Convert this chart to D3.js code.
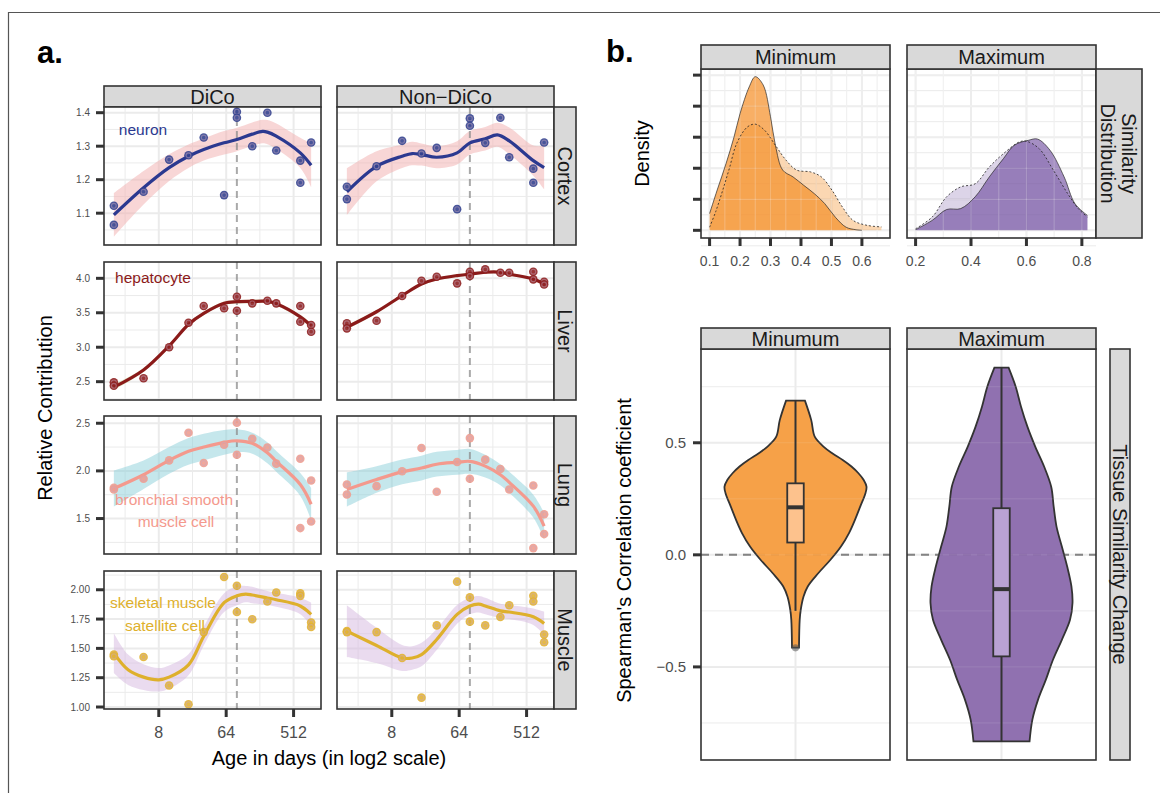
<!DOCTYPE html>
<html>
<head>
<meta charset="utf-8">
<script src="https://cdn.jsdelivr.net/npm/d3@7"></script>
<style>
body { margin: 0; background: #fff; }
svg { display: block; font-family: "Liberation Sans", Arial, sans-serif; }
</style>
</head>
<body>
<script>
"use strict";

// ---- data: panel a (age in days, relative contribution) ----
var tissues = ["Cortex", "Liver", "Lung", "Muscle"];
var groups = ["DiCo", "Non\u2212DiCo"];
var cellTypes = [["neuron"], ["hepatocyte"], ["bronchial smooth", "muscle cell"], ["skeletal muscle", "satellite cell"]];
var ages = [2, 5, 11, 20, 32, 60, 89, 143, 228, 300, 630, 880];
var cutoffAge = 89;

var cortexDiCo = [[2,1.122],[2,1.065],[5,1.164],[11,1.26],[20,1.273],[32,1.326],[60,1.154],[89,1.403],[89,1.385],[143,1.30],[228,1.40],[300,1.287],[630,1.257],[630,1.191],[880,1.311]];
var cortexNonDiCo = [[2,1.179],[2,1.142],[5,1.24],[11,1.316],[20,1.278],[32,1.295],[60,1.112],[89,1.383],[89,1.361],[143,1.31],[228,1.385],[300,1.267],[630,1.233],[630,1.191],[880,1.311]];
var liverDiCo = [[2,2.49],[2,2.44],[5,2.55],[11,3.0],[20,3.356],[32,3.598],[60,3.565],[89,3.733],[89,3.53],[143,3.637],[228,3.675],[300,3.637],[630,3.598],[630,3.37],[880,3.322],[880,3.225]];
var liverNonDiCo = [[2,3.347],[2,3.274],[5,3.385],[11,3.743],[20,3.965],[32,4.023],[60,3.927],[89,4.096],[89,4.033],[143,4.13],[228,4.08],[300,4.08],[630,4.096],[630,3.985],[880,3.95],[880,3.91]];
var lungDiCo = [[2,1.823],[2,1.805],[5,1.917],[11,2.11],[20,2.40],[32,2.083],[60,2.274],[89,2.506],[89,2.17],[143,2.336],[228,2.246],[300,2.076],[630,2.128],[630,1.40],[880,1.90],[880,1.469]];
var lungNonDiCo = [[2,1.857],[2,1.753],[5,1.84],[11,1.996],[20,2.24],[32,1.781],[60,2.094],[89,2.344],[89,1.917],[143,2.118],[228,2.02],[300,1.805],[630,1.847],[630,1.19],[880,1.545],[880,1.337]];
var muscleDiCo = [[2,1.447],[2,1.433],[5,1.427],[11,1.183],[20,1.023],[32,1.639],[60,2.109],[89,2.034],[89,1.81],[143,1.748],[228,1.90],[300,1.977],[630,1.969],[630,1.948],[880,1.72],[880,1.682]];
var muscleNonDiCo = [[2,1.647],[2,1.639],[5,1.639],[11,1.418],[20,1.08],[32,1.696],[60,2.069],[89,1.935],[89,1.728],[143,1.696],[228,1.768],[300,1.868],[630,1.948],[630,1.90],[880,1.619],[880,1.553]];

// loess fits: [age, fit, half-width of band]
var cortexDiCoFit = [[2,1.095,0.065],[5,1.176,0.05],[11,1.236,0.04],[20,1.27,0.035],[32,1.29,0.033],[60,1.31,0.035],[89,1.32,0.035],[143,1.336,0.035],[197,1.344,0.035],[228,1.342,0.036],[300,1.33,0.038],[630,1.28,0.045],[880,1.243,0.065]];
var cortexNonDiCoFit = [[2,1.164,0.07],[5,1.24,0.045],[11,1.27,0.035],[15,1.278,0.035],[20,1.275,0.033],[32,1.267,0.033],[60,1.28,0.035],[89,1.31,0.035],[143,1.322,0.035],[208,1.334,0.036],[300,1.316,0.04],[630,1.257,0.045],[880,1.236,0.065]];
var liverDiCoFit = [[2,2.42,0.04],[5,2.67,0.03],[11,3.02,0.025],[20,3.33,0.025],[32,3.49,0.025],[60,3.637,0.025],[89,3.66,0.025],[143,3.665,0.025],[228,3.665,0.025],[300,3.63,0.025],[630,3.44,0.03],[880,3.31,0.04]];
var liverNonDiCoFit = [[2,3.29,0.03],[5,3.515,0.025],[11,3.75,0.02],[20,3.917,0.02],[32,3.99,0.02],[60,4.04,0.02],[89,4.06,0.02],[143,4.088,0.02],[228,4.088,0.02],[300,4.06,0.02],[630,3.99,0.02],[880,3.917,0.03]];
var lungDiCoFit = [[2,1.815,0.19],[5,1.96,0.15],[11,2.11,0.14],[20,2.205,0.14],[32,2.25,0.14],[60,2.30,0.13],[89,2.316,0.12],[143,2.29,0.11],[228,2.19,0.11],[300,2.10,0.11],[630,1.857,0.12],[880,1.65,0.17]];
var lungNonDiCoFit = [[2,1.805,0.18],[5,1.91,0.14],[11,1.99,0.13],[20,2.03,0.13],[32,2.07,0.13],[60,2.09,0.13],[89,2.10,0.13],[143,2.05,0.12],[228,1.96,0.11],[300,1.88,0.11],[630,1.63,0.12],[880,1.42,0.14]];
var muscleDiCoFit = [[2,1.46,0.17],[3.1,1.318,0.13],[5,1.255,0.11],[8,1.232,0.1],[11,1.255,0.1],[20,1.36,0.09],[32,1.604,0.08],[60,1.89,0.08],[89,1.948,0.08],[117,1.963,0.07],[143,1.955,0.07],[228,1.93,0.06],[300,1.915,0.06],[630,1.862,0.07],[880,1.79,0.1]];
var muscleNonDiCoFit = [[2,1.647,0.22],[5,1.525,0.15],[11,1.418,0.11],[15,1.418,0.1],[20,1.447,0.1],[32,1.576,0.09],[60,1.79,0.08],[89,1.862,0.07],[117,1.877,0.07],[143,1.862,0.07],[228,1.82,0.06],[300,1.81,0.06],[630,1.77,0.07],[880,1.713,0.1]];

var rowLimits = [[1.005, 1.417], [2.234, 4.237], [1.128, 2.576], [0.983, 2.16]];
var rowTicks = [[1.1, 1.2, 1.3, 1.4], [2.5, 3.0, 3.5, 4.0], [1.5, 2.0, 2.5], [1.0, 1.25, 1.5, 1.75, 2.0]];
var rowFormats = [".1f", ".1f", ".1f", ".2f"];
var ageTicks = [8, 64, 512];

// ---- data: panel b ----
var simFacets = ["Minimum", "Maximum"];
var vioFacets = ["Minumum", "Maximum"];
var minDensSolid = [[0.10,0.54],[0.125,1.3],[0.154,2.15],[0.18,3.0],[0.20,3.76],[0.23,4.62],[0.25,4.95],[0.276,4.68],[0.30,3.66],[0.316,2.74],[0.34,1.94],[0.374,1.72],[0.409,1.45],[0.444,1.18],[0.478,0.86],[0.513,0.42],[0.548,0.1],[0.58,0.02],[0.60,0]];
var minDensDashed = [[0.10,0.1],[0.12,0.6],[0.143,1.29],[0.165,2.0],[0.189,2.8],[0.224,3.33],[0.25,3.42],[0.28,3.23],[0.316,2.74],[0.351,2.26],[0.386,1.94],[0.432,1.88],[0.467,1.72],[0.502,1.29],[0.536,0.75],[0.571,0.32],[0.617,0.16],[0.664,0.11]];
var maxDensSolid = [[0.2,0.02],[0.26,0.32],[0.312,0.67],[0.363,0.70],[0.415,1.08],[0.466,1.72],[0.517,2.31],[0.556,2.74],[0.607,2.90],[0.64,2.94],[0.685,2.58],[0.736,1.72],[0.775,0.86],[0.82,0.48]];
var maxDensDashed = [[0.2,0.05],[0.26,0.43],[0.312,1.08],[0.363,1.40],[0.415,1.5],[0.466,2.04],[0.517,2.47],[0.575,2.85],[0.60,2.87],[0.646,2.63],[0.697,1.94],[0.749,1.18],[0.787,0.70],[0.82,0.43]];
var minTicks = [0.1, 0.2, 0.3, 0.4, 0.5, 0.6];
var maxTicks = [0.2, 0.4, 0.6, 0.8];
var densTicks = [0, 1, 2, 3, 4, 5];

// violin outlines: [coefficient, relative density]
var minViolin = [[0.688,27],[0.601,45],[0.527,55],[0.483,80],[0.453,105],[0.423,135],[0.394,160],[0.364,180],[0.334,195],[0.304,203],[0.275,200],[0.215,185],[0.156,170],[0.097,153],[0.037,130],[-0.022,100],[-0.082,65],[-0.141,35],[-0.186,23],[-0.245,15],[-0.29,12],[-0.414,10]];
var maxViolin = [[0.835,20],[0.75,40],[0.661,55],[0.572,73],[0.483,95],[0.394,120],[0.304,140],[0.215,147],[0.126,155],[0.037,170],[-0.052,185],[-0.141,197],[-0.215,200],[-0.29,193],[-0.379,170],[-0.468,145],[-0.557,125],[-0.646,103],[-0.735,87],[-0.832,79]];
// [lower whisker, q1, median, q3, upper whisker]
var minBox = [-0.25, 0.055, 0.212, 0.319, 0.688];
var maxBox = [-0.832, -0.453, -0.153, 0.208, 0.835];
var minOutliers = [-0.415];
var maxOutliers = [];
var corrTicks = [-0.5, 0, 0.5];

// ---- styles ----
var lineColors = ["#2b3990", "#8b1a1a", "#f4998d", "#deb02c"];
var pointColors = ["#34428f", "#8e2020", "#ef9d8f", "#e2b332"];
var ribbonColors = ["#f2adad", "#c5dc9a", "#8ccfda", "#d6b8df"];
var gridCol = "#ebebeb";
var dark = "#333333";

var width = 1160, height = 793;
var svg = d3.select("body").append("svg")
    .attr("width", width)
    .attr("height", height);

// outer frame
svg.append("path")
    .attr("d", "M8.5," + height + "V12.5H" + width)
    .attr("fill", "none")
    .attr("stroke", "#555")
    .attr("stroke-width", 1.2);

function expand(ext, f) {
    var p = (ext[1] - ext[0]) * (f || 0.05);
    return [ext[0] - p, ext[1] + p];
}

// midpoints between major breaks, plus one half step beyond each end
function minorsOf(major) {
    var step = major[1] - major[0];
    var out = [major[0] - step / 2];
    major.forEach(function(m) { out.push(m + step / 2); });
    return out;
}

function strip(g, x, y, w, h, label, rotate) {
    g.append("rect")
        .attr("x", x).attr("y", y).attr("width", w).attr("height", h)
        .attr("fill", "#d9d9d9").attr("stroke", dark).attr("stroke-width", 1.6);
    var lines = [].concat(label);
    var t = g.append("text")
        .attr("font-size", 20)
        .attr("fill", "#1a1a1a")
        .attr("text-anchor", "middle");
    if (rotate) {
        t.attr("transform", "translate(" + (x + w / 2) + "," + (y + h / 2) + ") rotate(90)");
    } else {
        t.attr("transform", "translate(" + (x + w / 2) + "," + (y + h / 2) + ")");
    }
    lines.forEach(function(s, i) {
        t.append("tspan")
            .attr("x", 0)
            .attr("y", (i - (lines.length - 1) / 2) * 21)
            .attr("dy", "0.36em")
            .text(s);
    });
}

function hGrid(g, vals, y, w, sw, col) {
    return g.selectAll(null).data(vals).enter().append("line")
        .attr("x1", 0).attr("x2", w)
        .attr("y1", function(d) { return y(d); }).attr("y2", function(d) { return y(d); })
        .attr("stroke", col || gridCol).attr("stroke-width", sw);
}
function vGrid(g, vals, x, h, sw, col) {
    return g.selectAll(null).data(vals).enter().append("line")
        .attr("y1", 0).attr("y2", h)
        .attr("x1", function(d) { return x(d); }).attr("x2", function(d) { return x(d); })
        .attr("stroke", col || gridCol).attr("stroke-width", sw);
}
function border(g, w, h) {
    g.append("rect").attr("width", w).attr("height", h)
        .attr("fill", "none").attr("stroke", dark).attr("stroke-width", 1.6);
}
function yTicks(g, vals, y, fmt, size, gap) {
    g.selectAll(null).data(vals).enter().append("line")
        .attr("x1", -8).attr("x2", 0)
        .attr("y1", function(d) { return y(d); }).attr("y2", function(d) { return y(d); })
        .attr("stroke", dark).attr("stroke-width", 3);
    if (!fmt) return;
    g.selectAll(null).data(vals).enter().append("text")
        .attr("x", -gap).attr("y", function(d) { return y(d); })
        .attr("dy", "0.36em")
        .attr("text-anchor", "end")
        .attr("font-size", size)
        .attr("fill", "#4d4d4d")
        .text(d3.format(fmt));
}
function xTicks(g, vals, x, h, fmt, size, base) {
    g.selectAll(null).data(vals).enter().append("line")
        .attr("y1", h).attr("y2", h + 8)
        .attr("x1", function(d) { return x(d); }).attr("x2", function(d) { return x(d); })
        .attr("stroke", dark).attr("stroke-width", 3);
    g.selectAll(null).data(vals).enter().append("text")
        .attr("x", function(d) { return x(d); }).attr("y", h + base)
        .attr("text-anchor", "middle")
        .attr("font-size", size)
        .attr("fill", "#4d4d4d")
        .text(fmt);
}

// =================== panel a ===================
var colX = [104, 337], rowY = [107, 262, 416, 571];
var pw = 217, ph = 138;

svg.append("text").attr("x", 37).attr("y", 63)
    .attr("font-size", 31).attr("font-weight", "bold").text("a.");

var logExt = d3.extent(ages).map(Math.log2);
var x = d3.scaleLog().base(2)
    .domain(expand(logExt).map(function(v) { return Math.pow(2, v); }))
    .range([0, pw]);
var xMajorLog = ageTicks.map(Math.log2);
var xMinor = minorsOf(xMajorLog).map(function(v) { return Math.pow(2, v); })
    .filter(function(v) { return v >= x.domain()[0] && v <= x.domain()[1]; });

var facetsA = [
    [cortexDiCo, cortexDiCoFit, cortexNonDiCo, cortexNonDiCoFit],
    [liverDiCo, liverDiCoFit, liverNonDiCo, liverNonDiCoFit],
    [lungDiCo, lungDiCoFit, lungNonDiCo, lungNonDiCoFit],
    [muscleDiCo, muscleDiCoFit, muscleNonDiCo, muscleNonDiCoFit]
];
var labelPos = [[[39, 28]], [[49, 21]], [[70, 89], [72, 111]], [[59, 37], [61, 60]]];

groups.forEach(function(gname, c) {
    strip(svg, colX[c], 86, pw, 21, gname, false);
});

var clipId = 0;
tissues.forEach(function(tissue, r) {
    var y = d3.scaleLinear().domain(rowLimits[r]).range([ph, 0]);
    var yMinor = minorsOf(rowTicks[r]).filter(function(v) { return v >= rowLimits[r][0] && v <= rowLimits[r][1]; });
    var line = d3.line()
        .x(function(d) { return x(d[0]); })
        .y(function(d) { return y(d[1]); })
        .curve(d3.curveCatmullRom.alpha(0.5));
    var band = d3.area()
        .x(function(d) { return x(d[0]); })
        .y0(function(d) { return y(d[1] - d[2]); })
        .y1(function(d) { return y(d[1] + d[2]); })
        .curve(d3.curveCatmullRom.alpha(0.5));

    groups.forEach(function(gname, c) {
        var pts = facetsA[r][c * 2], fit = facetsA[r][c * 2 + 1];
        var g = svg.append("g").attr("transform", "translate(" + colX[c] + "," + rowY[r] + ")");
        var cid = "clip" + (clipId++);
        g.append("clipPath").attr("id", cid).append("rect").attr("width", pw).attr("height", ph);
        g.append("rect").attr("width", pw).attr("height", ph).attr("fill", "#fff");
        hGrid(g, yMinor, y, pw, 1);
        vGrid(g, xMinor, x, ph, 1);
        hGrid(g, rowTicks[r], y, pw, 2);
        vGrid(g, ageTicks, x, ph, 2);

        var inner = g.append("g").attr("clip-path", "url(#" + cid + ")");
        inner.append("path").datum(fit).attr("d", band)
            .attr("fill", ribbonColors[r]).attr("fill-opacity", 0.5);
        inner.append("line")
            .attr("x1", x(cutoffAge)).attr("x2", x(cutoffAge))
            .attr("y1", 0).attr("y2", ph)
            .attr("stroke", "#8c8c8c").attr("stroke-opacity", 0.75)
            .attr("stroke-width", 2).attr("stroke-dasharray", "7,5");
        inner.append("path").datum(fit).attr("d", line)
            .attr("fill", "none").attr("stroke", lineColors[r]).attr("stroke-width", 3.2);
        var pg = inner.selectAll(null).data(pts).enter().append("g")
            .attr("transform", function(d) { return "translate(" + x(d[0]) + "," + y(d[1]) + ")"; });
        pg.append("circle").attr("r", 4.3)
            .attr("fill", pointColors[r]).attr("fill-opacity", 0.9);
        pg.append("circle").attr("r", 2.4)
            .attr("fill", "none").attr("stroke", "#c8a8c0").attr("stroke-opacity", 0.45).attr("stroke-width", 1.1);

        if (c === 0) {
            g.selectAll(null).data(cellTypes[r]).enter().append("text")
                .attr("x", function(d, i) { return labelPos[r][i][0]; })
                .attr("y", function(d, i) { return labelPos[r][i][1]; })
                .attr("text-anchor", "middle")
                .attr("font-size", 15.5)
                .attr("fill", lineColors[r])
                .text(function(d) { return d; });
            yTicks(g, rowTicks[r], y, rowFormats[r], 10, 14);
        }
        if (r === tissues.length - 1) {
            xTicks(g, ageTicks, x, ph, function(d) { return d; }, 16, 29);
        }
        border(g, pw, ph);
    });
    strip(svg, colX[1] + pw, rowY[r], 22, ph, tissue, true);
});

svg.append("text")
    .attr("transform", "translate(52," + (rowY[0] + (rowY[3] + ph - rowY[0]) / 2) + ") rotate(-90)")
    .attr("text-anchor", "middle").attr("font-size", 20)
    .text("Relative Contribution");
svg.append("text")
    .attr("x", (colX[0] + colX[1] + pw) / 2).attr("y", 765)
    .attr("text-anchor", "middle").attr("font-size", 20)
    .text("Age in days (in log2 scale)");

// =================== panel b: density ===================
svg.append("text").attr("x", 606).attr("y", 62)
    .attr("font-size", 31).attr("font-weight", "bold").text("b.");

var bX = [701, 907], bw = 189;
var dTop = 69, dh = 169;
var densMax = d3.max(minDensSolid.concat(minDensDashed, maxDensSolid, maxDensDashed), function(d) { return d[1]; });
var yD = d3.scaleLinear().domain(expand([0, densMax])).range([dh, 0]);

var densPanels = [
    {solid: minDensSolid, dashed: minDensDashed, ticks: minTicks, fill: "#f5902a"},
    {solid: maxDensSolid, dashed: maxDensDashed, ticks: maxTicks, fill: "#6e4a9e"}
];
densPanels.forEach(function(p, c) {
    var ext = d3.extent(p.solid.concat(p.dashed), function(d) { return d[0]; });
    var xs = d3.scaleLinear().domain(expand(ext)).range([0, bw]);
    var xMinorD = minorsOf(p.ticks).filter(function(v) { return v >= xs.domain()[0] && v <= xs.domain()[1]; });
    var g = svg.append("g").attr("transform", "translate(" + bX[c] + "," + dTop + ")");
    g.append("rect").attr("width", bw).attr("height", dh).attr("fill", "#fff");
    hGrid(g, minorsOf(densTicks), yD, bw, 1);
    vGrid(g, xMinorD, xs, dh, 1);
    hGrid(g, densTicks, yD, bw, 2);
    vGrid(g, p.ticks, xs, dh, 2);

    var area = d3.area().x(function(d) { return xs(d[0]); })
        .y0(yD(0)).y1(function(d) { return yD(d[1]); })
        .curve(d3.curveCatmullRom.alpha(0.5));
    var upper = d3.line().x(function(d) { return xs(d[0]); })
        .y(function(d) { return yD(d[1]); })
        .curve(d3.curveCatmullRom.alpha(0.5));
    g.append("path").datum(p.solid).attr("d", area)
        .attr("fill", p.fill).attr("fill-opacity", c === 0 ? 0.72 : 0.62);
    g.append("path").datum(p.dashed).attr("d", area)
        .attr("fill", p.fill).attr("fill-opacity", c === 0 ? 0.36 : 0.24);
    // grid shows faintly through the fills
    hGrid(g, densTicks, yD, bw, 1.2, "#ffffff").attr("stroke-opacity", 0.22);
    vGrid(g, p.ticks.concat(xMinorD), xs, dh, 1.2, "#ffffff").attr("stroke-opacity", 0.22);
    g.append("path").datum(p.dashed).attr("d", upper)
        .attr("fill", "none").attr("stroke", "#222").attr("stroke-width", 0.8)
        .attr("stroke-dasharray", "2,2");
    g.append("path").datum(p.solid).attr("d", upper)
        .attr("fill", "none").attr("stroke", "#222").attr("stroke-opacity", 0.75).attr("stroke-width", 0.9);

    if (c === 0) yTicks(g, densTicks, yD, null);
    xTicks(g, p.ticks, xs, dh, d3.format(".1f"), 14, 28);
    border(g, bw, dh);
    strip(svg, bX[c], 45, bw, 24, simFacets[c], false);
});
strip(svg, bX[1] + bw, dTop, 46, dh, ["Similarity", "Distribution"], true);

svg.append("text")
    .attr("transform", "translate(649," + (dTop + dh / 2) + ") rotate(-90)")
    .attr("text-anchor", "middle").attr("font-size", 20)
    .text("Density");

// =================== panel b: violins ===================
var vTop = 349, vh = 411;
var corrExt = d3.extent(minViolin.concat(maxViolin), function(d) { return d[0]; });
var yV = d3.scaleLinear().domain(expand(corrExt)).range([vh, 0]);
var halfMax = 71, boxW = 16.5;

var vioPanels = [
    {outline: minViolin, box: minBox, out: minOutliers, fill: "#f59a3a", boxFill: "#fdc28d"},
    {outline: maxViolin, box: maxBox, out: maxOutliers, fill: "#8866aa", boxFill: "#b9a2d3"}
];
vioPanels.forEach(function(p, c) {
    var g = svg.append("g").attr("transform", "translate(" + bX[c] + "," + vTop + ")");
    var cx = bw / 2;
    var wS = d3.scaleLinear().domain([0, d3.max(p.outline, function(d) { return d[1]; })]).range([0, halfMax]);
    g.append("rect").attr("width", bw).attr("height", vh).attr("fill", "#fff");
    hGrid(g, minorsOf(corrTicks), yV, bw, 1);
    hGrid(g, corrTicks, yV, bw, 2);
    g.append("line").attr("x1", cx).attr("x2", cx).attr("y1", 0).attr("y2", vh)
        .attr("stroke", gridCol).attr("stroke-width", 2);
    g.append("line").attr("x1", 0).attr("x2", bw)
        .attr("y1", yV(0)).attr("y2", yV(0))
        .attr("stroke", "#7a7a7a").attr("stroke-width", 2).attr("stroke-dasharray", "8,6");

    var violin = d3.area()
        .y(function(d) { return yV(d[0]); })
        .x0(function(d) { return cx - wS(d[1]); })
        .x1(function(d) { return cx + wS(d[1]); })
        .curve(d3.curveCatmullRom.alpha(0.5));
    g.append("path").datum(p.outline).attr("d", violin)
        .attr("fill", p.fill).attr("fill-opacity", 0.93)
        .attr("stroke", dark).attr("stroke-width", 1.8);
    hGrid(g, corrTicks.concat(minorsOf(corrTicks)), yV, bw, 1, "#ffffff").attr("stroke-opacity", 0.12);

    var b = p.box;
    g.append("line").attr("x1", cx).attr("x2", cx)
        .attr("y1", yV(b[0])).attr("y2", yV(b[4]))
        .attr("stroke", dark).attr("stroke-width", 2);
    g.append("rect")
        .attr("x", cx - boxW / 2).attr("width", boxW)
        .attr("y", yV(b[3])).attr("height", yV(b[1]) - yV(b[3]))
        .attr("fill", p.boxFill).attr("stroke", dark).attr("stroke-width", 1.8);
    g.append("line").attr("x1", cx - boxW / 2).attr("x2", cx + boxW / 2)
        .attr("y1", yV(b[2])).attr("y2", yV(b[2]))
        .attr("stroke", dark).attr("stroke-width", 4);
    g.selectAll(null).data(p.out).enter().append("circle")
        .attr("cx", cx).attr("cy", function(d) { return yV(d); }).attr("r", 3.6)
        .attr("fill", "#555").attr("fill-opacity", 0.55);

    if (c === 0) yTicks(g, corrTicks, yV, ".1f", 15, 15);
    border(g, bw, vh);
    strip(svg, bX[c], 328, bw, 21, vioFacets[c], false);
});
strip(svg, 1110, vTop, 20, vh, "Tissue Similarity Change", true);

svg.append("text")
    .attr("transform", "translate(631," + (vTop + vh / 2 - 4) + ") rotate(-90)")
    .attr("text-anchor", "middle").attr("font-size", 20)
    .text("Spearman's Correlation coefficient");
</script>
</body>
</html>
